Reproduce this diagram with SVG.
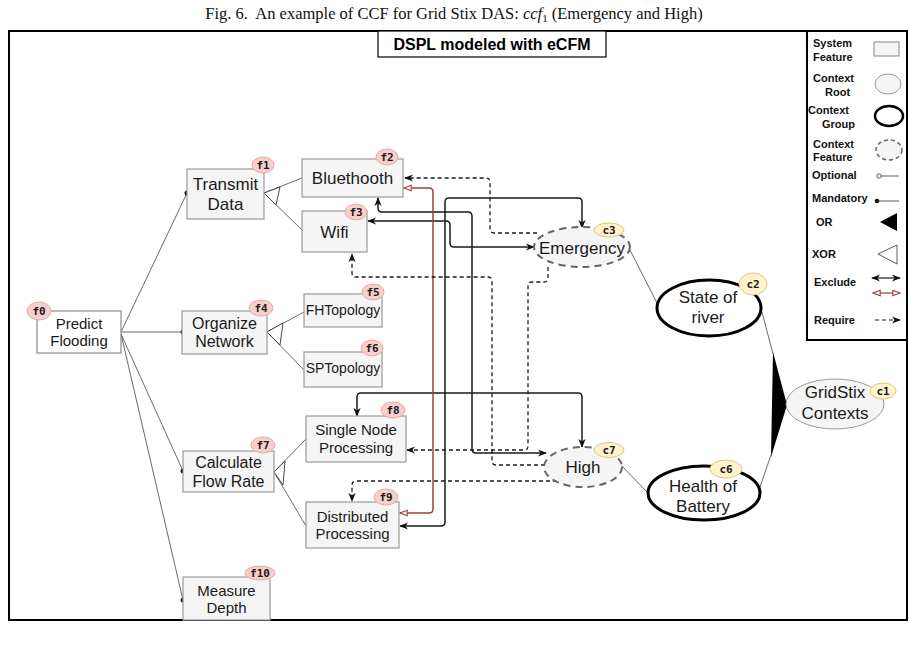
<svg xmlns="http://www.w3.org/2000/svg" width="909" height="646" viewBox="0 0 909 646">
<style>
.feat{fill:#f5f5f5;stroke:#9a9a9a;stroke-width:1.2}
.rootf{fill:#ffffff;stroke:#8a8a8a;stroke-width:1.2}
.lbl{font-family:"Liberation Sans",Arial,sans-serif;fill:#1a1a1a;text-anchor:middle}
.bf{fill:#f8cecc;stroke:#e8a9a7;stroke-width:1}
.bc{fill:#fff2cc;stroke:#e0c77a;stroke-width:1}
.bt{font-family:"DejaVu Sans Mono",monospace;font-weight:bold;font-size:11px;text-anchor:middle;fill:#1a1a1a}
.tree{fill:none;stroke:#444;stroke-width:0.8}
.ex{fill:none;stroke:#1a1a1a;stroke-width:1.5}
.exr{fill:none;stroke:#a04040;stroke-width:1.5}
.req{fill:none;stroke:#1a1a1a;stroke-width:1.3;stroke-dasharray:4 3}
.leg{font-family:"Liberation Sans",Arial,sans-serif;font-weight:bold;font-size:11px;fill:#111}
.cgrp{fill:#ffffff;stroke:#000;stroke-width:3}
.cfeat{fill:#f5f5f5;stroke:#666;stroke-width:2;stroke-dasharray:7 5}
.croot{fill:#f5f5f5;stroke:#999;stroke-width:1}
</style>
<defs>
<marker id="arr" viewBox="0 0 10 10" refX="9" refY="5" markerWidth="9" markerHeight="9" markerUnits="userSpaceOnUse" orient="auto-start-reverse">
<path d="M0,1 L10,5 L0,9 L3,5 z" fill="#111"/>
</marker>
<marker id="rarr" viewBox="0 0 10 10" refX="9" refY="5" markerWidth="9" markerHeight="9" markerUnits="userSpaceOnUse" orient="auto-start-reverse">
<path d="M1,2 L9,5 L1,8 z" fill="#fff" stroke="#a04040" stroke-width="1.3"/>
</marker>
</defs>
<rect x="0" y="0" width="909" height="646" fill="#fff"/>

<text x="454" y="19" font-family="'Liberation Serif','Times New Roman',serif" font-size="16.5" text-anchor="middle" fill="#111">Fig. 6.&#160; An example of CCF for Grid Stix DAS: <tspan font-style="italic">ccf</tspan><tspan font-size="11" dy="3">1</tspan><tspan dy="-3"> (Emergency and High)</tspan></text>

<rect id="frame" x="9" y="31" width="898" height="589" fill="none" stroke="#000" stroke-width="2"/>
<g id="dspl">
<rect x="378" y="31" width="228" height="26" fill="#fff" stroke="#000" stroke-width="1.2"/>
<text x="492" y="50" font-family="'Liberation Sans',Arial,sans-serif" font-weight="bold" font-size="16" text-anchor="middle" fill="#000">DSPL modeled with eCFM</text>
</g>

<g id="legend">
<rect x="807" y="31" width="100" height="309" fill="#fff" stroke="#000" stroke-width="2"/>
<text class="leg" x="813" y="47">System</text>
<text class="leg" x="813" y="61">Feature</text>
<rect x="874" y="42" width="25" height="14" class="feat"/>
<text class="leg" x="813" y="82">Context</text>
<text class="leg" x="825" y="96">Root</text>
<ellipse cx="888" cy="84" rx="13" ry="10" class="croot"/>
<text class="leg" x="808" y="114">Context</text>
<text class="leg" x="822" y="128">Group</text>
<ellipse cx="889" cy="116" rx="14" ry="10" fill="#fff" stroke="#000" stroke-width="2.5"/>
<text class="leg" x="813" y="148">Context</text>
<text class="leg" x="813" y="161">Feature</text>
<ellipse cx="889" cy="150" rx="13" ry="10" fill="#f5f5f5" stroke="#666" stroke-width="1.5" stroke-dasharray="4 3"/>
<text class="leg" x="812" y="179">Optional</text>
<circle cx="879" cy="176" r="2.2" fill="#fff" stroke="#333" stroke-width="0.8"/>
<line x1="881" y1="176" x2="899" y2="176" stroke="#333" stroke-width="0.8"/>
<text class="leg" x="812" y="202">Mandatory</text>
<circle cx="877" cy="201" r="2.3" fill="#111"/>
<line x1="877" y1="201" x2="899" y2="201" stroke="#333" stroke-width="0.8"/>
<text class="leg" x="816" y="226">OR</text>
<polygon points="880,222 897,213 897,231" fill="#000"/>
<text class="leg" x="812" y="258">XOR</text>
<polygon points="878,254 897,245 897,264" fill="#fff" stroke="#333" stroke-width="0.8"/>
<text class="leg" x="814" y="286">Exclude</text>
<line x1="872" y1="278" x2="900" y2="278" class="ex" marker-start="url(#arr)" marker-end="url(#arr)" style="stroke-width:1.2"/>
<line x1="873" y1="293" x2="900" y2="293" class="exr" marker-start="url(#rarr)" marker-end="url(#rarr)" style="stroke-width:1.2"/>
<text class="leg" x="814" y="324">Require</text>
<line x1="875" y1="320" x2="900" y2="320" class="req" marker-end="url(#arr)" style="stroke-width:1.2"/>
</g>

<g id="connectors">
<path class="tree" d="M121,332 L187,193"/>
<path class="tree" d="M121,332 L183,332"/>
<path class="tree" d="M121,334 L183,471"/>
<path class="tree" d="M121,334 L183,600"/>
<circle cx="187" cy="193" r="2.5" fill="#111"/>
<circle cx="183" cy="332" r="2.5" fill="#111"/>
<circle cx="183" cy="471" r="2.5" fill="#111"/>
<circle cx="183" cy="600" r="2.5" fill="#111"/>
<path class="tree" d="M264,193 L302,178 M264,193 L302,230"/>
<polygon points="264,193 280,187 276,205" fill="#fff" stroke="#333" stroke-width="0.9"/>
<path class="tree" d="M267,332 L304,312 M267,332 L304,370"/>
<polygon points="267,332 283,323 280,345" fill="#fff" stroke="#333" stroke-width="0.9"/>
<path class="tree" d="M274,472 L306,439 M274,472 L306,526"/>
<polygon points="274,472 285,461 283,485" fill="#fff" stroke="#333" stroke-width="0.9"/>
<path class="tree" d="M630,250 L658,305"/>
<path class="tree" d="M621,465 L648,493"/>
<path class="tree" d="M762,312 L773,354 M759,490 L771,455"/>
<polygon points="773,352 787,405 771,457" fill="#000"/>
<path class="ex" d="M400,526 H441 Q445,526 445,522 V202 Q445,198 449,198 H578 Q582,198 582,202 V228" marker-start="url(#arr)" marker-end="url(#arr)"/>
<path class="ex" d="M378,198 V208 Q378,212 382,212 H468 Q472,212 472,216 V449 Q472,453 476,453 H546" marker-start="url(#arr)" marker-end="url(#arr)"/>
<path class="ex" d="M368,221 H446 Q450,221 450,225 V243 Q450,247 454,247 H534" marker-start="url(#arr)" marker-end="url(#arr)"/>
<path class="ex" d="M357,416 V397 Q357,393 361,393 H578 Q582,393 582,397 V447" marker-start="url(#arr)" marker-end="url(#arr)"/>
<path class="exr" d="M404,188 H429 Q433,188 433,192 V509 Q433,513 429,513 H400" marker-start="url(#rarr)" marker-end="url(#rarr)"/>
<path class="req" d="M537,233 H494 Q490,233 490,229 V182 Q490,178 486,178 H405" marker-end="url(#arr)"/>
<path class="req" d="M545,465 H496 Q492,465 492,461 V281 Q492,277 488,277 H356 Q352,277 352,273 V254" marker-end="url(#arr)"/>
<path class="req" d="M548,267 V278 Q548,282 544,282 H532 Q528,282 528,286 V446 Q528,450 524,450 H407" marker-end="url(#arr)"/>
<path class="req" d="M557,481 H356 Q352,481 352,485 V501" marker-end="url(#arr)"/>
</g>

<g id="f0">
<rect x="37" y="311" width="84" height="42" class="rootf"/>
<text class="lbl" x="79" y="329" font-size="15">Predict</text>
<text class="lbl" x="79" y="346" font-size="15">Flooding</text>
<ellipse cx="39" cy="311" rx="12" ry="9" class="bf"/><text class="bt" x="39" y="315">f0</text>
</g>
<g id="f1">
<rect x="187" y="169" width="77" height="50" class="feat"/>
<text class="lbl" x="225.5" y="190" font-size="17">Transmit</text>
<text class="lbl" x="225.5" y="210" font-size="17">Data</text>
<ellipse cx="263" cy="165" rx="11" ry="8" class="bf"/><text class="bt" x="263" y="169">f1</text>
</g>
<g id="f2">
<rect x="302" y="159" width="101" height="38" class="feat"/>
<text class="lbl" x="352.5" y="184" font-size="17">Bluethooth</text>
<ellipse cx="387" cy="157" rx="11" ry="8" class="bf"/><text class="bt" x="387" y="161">f2</text>
</g>
<g id="f3">
<rect x="302" y="211" width="65" height="41" class="feat"/>
<text class="lbl" x="334.5" y="238" font-size="17">Wifi</text>
<ellipse cx="356" cy="212" rx="11" ry="8" class="bf"/><text class="bt" x="356" y="216">f3</text>
</g>
<g id="f4">
<rect x="182" y="311" width="85" height="43" class="feat"/>
<text class="lbl" x="224.5" y="329" font-size="16">Organize</text>
<text class="lbl" x="224.5" y="347" font-size="16">Network</text>
<ellipse cx="261" cy="308" rx="12" ry="8" class="bf"/><text class="bt" x="261" y="312">f4</text>
</g>
<g id="f5">
<rect x="304" y="294" width="78" height="33" class="feat"/>
<text class="lbl" x="343" y="315" font-size="14">FHTopology</text>
<ellipse cx="373" cy="292" rx="11" ry="8" class="bf"/><text class="bt" x="373" y="296">f5</text>
</g>
<g id="f6">
<rect x="304" y="352" width="78" height="35" class="feat"/>
<text class="lbl" x="343" y="373" font-size="14">SPTopology</text>
<ellipse cx="372" cy="348" rx="11" ry="8" class="bf"/><text class="bt" x="372" y="352">f6</text>
</g>
<g id="f7">
<rect x="183" y="451" width="91" height="41" class="feat"/>
<text class="lbl" x="228.5" y="468" font-size="16">Calculate</text>
<text class="lbl" x="228.5" y="487" font-size="16">Flow Rate</text>
<ellipse cx="263" cy="445" rx="12" ry="8" class="bf"/><text class="bt" x="263" y="449">f7</text>
</g>
<g id="f8">
<rect x="306" y="416" width="100" height="46" class="feat"/>
<text class="lbl" x="356" y="435" font-size="15">Single Node</text>
<text class="lbl" x="356" y="453" font-size="15">Processing</text>
<ellipse cx="393" cy="410" rx="12" ry="8" class="bf"/><text class="bt" x="393" y="414">f8</text>
</g>
<g id="f9">
<rect x="306" y="502" width="93" height="46" class="feat"/>
<text class="lbl" x="352.5" y="522" font-size="15">Distributed</text>
<text class="lbl" x="352.5" y="539" font-size="15">Processing</text>
<ellipse cx="386" cy="497" rx="12" ry="8" class="bf"/><text class="bt" x="386" y="501">f9</text>
</g>
<g id="f10">
<rect x="183" y="577" width="87" height="43" class="feat"/>
<text class="lbl" x="226.5" y="596" font-size="15">Measure</text>
<text class="lbl" x="226.5" y="613" font-size="15">Depth</text>
<ellipse cx="260" cy="573" rx="15" ry="7" class="bf"/><text class="bt" x="260" y="577">f10</text>
</g>

<g id="c3">
<ellipse cx="582" cy="247" rx="48" ry="20" class="cfeat"/>
<text class="lbl" x="582" y="254" font-size="17">Emergency</text>
<ellipse cx="609" cy="230" rx="15" ry="7" class="bc"/><text class="bt" x="609" y="234">c3</text>
</g>
<g id="c7">
<ellipse cx="583" cy="467" rx="39" ry="20" class="cfeat"/>
<text class="lbl" x="583" y="473" font-size="17">High</text>
<ellipse cx="609" cy="450" rx="15" ry="7.5" class="bc"/><text class="bt" x="609" y="454">c7</text>
</g>
<g id="c2">
<ellipse cx="709" cy="308" rx="52" ry="28" class="cgrp"/>
<text class="lbl" x="708" y="303" font-size="17">State of</text>
<text class="lbl" x="708" y="323" font-size="17">river</text>
<ellipse cx="753" cy="284" rx="14" ry="11" class="bc"/><text class="bt" x="753" y="288">c2</text>
</g>
<g id="c6">
<ellipse cx="704" cy="493" rx="56" ry="27" class="cgrp"/>
<text class="lbl" x="703" y="492" font-size="17">Health of</text>
<text class="lbl" x="703" y="512" font-size="17">Battery</text>
<ellipse cx="726" cy="469" rx="16" ry="9" class="bc"/><text class="bt" x="726" y="473">c6</text>
</g>
<g id="c1">
<ellipse cx="835" cy="404" rx="49" ry="25" class="croot"/>
<text class="lbl" x="835" y="398" font-size="17">GridStix</text>
<text class="lbl" x="835" y="419" font-size="17">Contexts</text>
<ellipse cx="883" cy="391" rx="13" ry="8" class="bc"/><text class="bt" x="883" y="395">c1</text>
</g>
</svg>
